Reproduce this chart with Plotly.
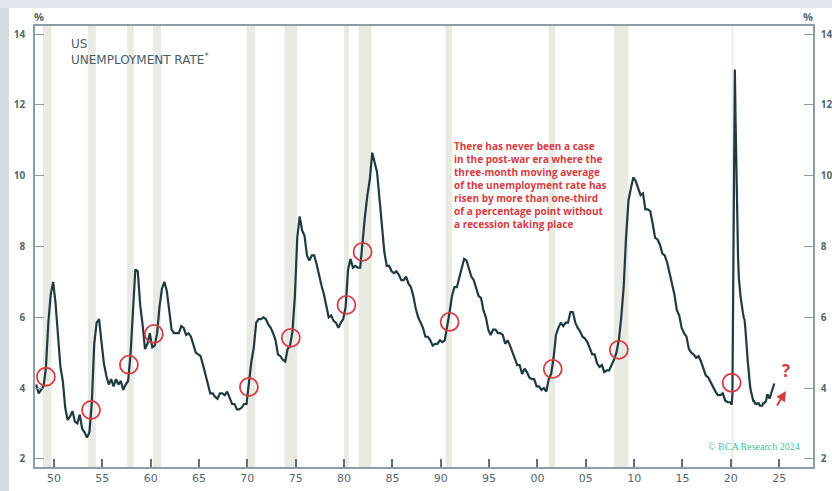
import plotly.graph_objects as go

# ---------------- data ----------------
# 3-month moving average of the US unemployment rate (%).
# Quarterly readings (end of Mar / Jun / Sep / Dec) from 1948 to 2019
Q_START_YEAR = 1948
rate_quarterly = [
    4.10, 3.85, 3.95, 4.05,   # 1948
    4.55, 5.85, 6.65, 7.00,   # 1949
    6.40, 5.55, 4.60, 4.20,   # 1950
    3.45, 3.10, 3.20, 3.35,   # 1951
    3.05, 3.00, 3.25, 2.85,   # 1952
    2.75, 2.60, 2.75, 3.60,   # 1953
    5.25, 5.85, 5.95, 5.30,   # 1954
    4.70, 4.35, 4.10, 4.25,   # 1955
    4.05, 4.25, 4.10, 4.20,   # 1956
    3.95, 4.10, 4.20, 4.95,   # 1957
    6.35, 7.35, 7.30, 6.35,   # 1958
    5.80, 5.10, 5.25, 5.55,   # 1959
    5.15, 5.20, 5.55, 6.30,   # 1960
    6.80, 7.00, 6.75, 6.20,   # 1961
    5.65, 5.55, 5.55, 5.55,   # 1962
    5.75, 5.70, 5.50, 5.55,   # 1963
    5.45, 5.20, 5.00, 4.95,   # 1964
    4.90, 4.65, 4.35, 4.10,   # 1965
    3.85, 3.85, 3.75, 3.70,   # 1966
    3.85, 3.85, 3.80, 3.90,   # 1967
    3.75, 3.55, 3.55, 3.40,   # 1968
    3.40, 3.45, 3.55, 3.55,   # 1969
    4.15, 4.75, 5.15, 5.85,   # 1970
    5.95, 5.95, 6.00, 5.95,   # 1971
    5.80, 5.70, 5.55, 5.35,   # 1972
    4.95, 4.90, 4.80, 4.75,   # 1973
    5.10, 5.20, 5.60, 6.60,   # 1974
    8.25, 8.85, 8.45, 8.30,   # 1975
    7.75, 7.60, 7.75, 7.75,   # 1976
    7.50, 7.15, 6.90, 6.65,   # 1977
    6.35, 6.00, 6.05, 5.90,   # 1978
    5.85, 5.70, 5.85, 5.95,   # 1979
    6.30, 7.35, 7.65, 7.40,   # 1980
    7.45, 7.40, 7.40, 8.25,   # 1981
    8.85, 9.45, 9.90, 10.65,  # 1982
    10.35, 10.10, 9.35, 8.50, # 1983
    7.85, 7.45, 7.45, 7.30,   # 1984
    7.25, 7.30, 7.20, 7.05,   # 1985
    7.05, 7.15, 6.95, 6.85,   # 1986
    6.60, 6.25, 6.00, 5.85,   # 1987
    5.70, 5.45, 5.45, 5.35,   # 1988
    5.20, 5.25, 5.25, 5.35,   # 1989
    5.30, 5.35, 5.70, 6.15,   # 1990
    6.60, 6.85, 6.85, 7.10,   # 1991
    7.40, 7.65, 7.60, 7.35,   # 1992
    7.15, 7.05, 6.80, 6.60,   # 1993
    6.55, 6.20, 6.00, 5.65,   # 1994
    5.50, 5.65, 5.65, 5.55,   # 1995
    5.55, 5.50, 5.25, 5.35,   # 1996
    5.20, 5.00, 4.85, 4.65,   # 1997
    4.65, 4.40, 4.55, 4.45,   # 1998
    4.30, 4.25, 4.25, 4.05,   # 1999
    4.05, 3.95, 4.00, 3.90,   # 2000
    4.25, 4.40, 4.85, 5.50,   # 2001
    5.70, 5.85, 5.75, 5.85,   # 2002
    5.85, 6.15, 6.15, 5.85,   # 2003
    5.70, 5.60, 5.45, 5.40,   # 2004
    5.30, 5.10, 4.95, 4.95,   # 2005
    4.70, 4.60, 4.65, 4.45,   # 2006
    4.50, 4.50, 4.65, 4.80,   # 2007
    5.00, 5.35, 6.00, 6.85,   # 2008
    8.25, 9.30, 9.65, 9.95,   # 2009
    9.85, 9.65, 9.45, 9.50,   # 2010
    9.05, 9.05, 9.00, 8.65,   # 2011
    8.25, 8.20, 8.05, 7.80,   # 2012
    7.75, 7.55, 7.25, 6.95,   # 2013
    6.65, 6.20, 6.05, 5.70,   # 2014
    5.55, 5.45, 5.10, 5.00,   # 2015
    4.95, 4.85, 4.90, 4.75,   # 2016
    4.55, 4.35, 4.30, 4.15,   # 2017
    4.05, 3.90, 3.80, 3.80,   # 2018
    3.85, 3.65, 3.60, 3.60,   # 2019
]

# Monthly readings from Jan 2020 to Jul 2024
M_START_YEAR = 2020
rate_monthly = [
    3.57, 3.53, 3.80, 7.57, 10.80, 13.00, 11.47, 9.87, 8.80, 7.67, 7.10, 6.73,   # 2020
    6.60, 6.43, 6.23, 6.13, 6.00, 5.93, 5.70, 5.47, 5.07, 4.77, 4.47, 4.20,      # 2021
    4.03, 3.90, 3.80, 3.70, 3.63, 3.63, 3.57, 3.57, 3.53, 3.57, 3.57, 3.57,      # 2022
    3.50, 3.50, 3.48, 3.50, 3.57, 3.57, 3.60, 3.60, 3.67, 3.80, 3.80, 3.77,      # 2023
    3.70, 3.77, 3.83, 3.90, 3.93, 4.00, 4.13,                                    # 2024
]

# Points where the 3-month average rose by > 1/3 pp (red circles)
trigger_dates = ["1949-03-01", "1953-11-01", "1957-10-01", "1960-05-01", "1970-03-01",
                 "1974-07-01", "1980-04-01", "1981-12-01", "1990-12-01", "2001-08-01",
                 "2008-06-01", "2020-02-01"]
trigger_values = [4.32, 3.38, 4.66, 5.53, 4.03, 5.42, 6.35, 7.85, 5.87, 4.54, 5.08, 4.15]

# NBER recessions (shaded)
recessions = [
    ("1948-11-01", "1949-10-01"), ("1953-07-01", "1954-05-01"), ("1957-08-01", "1958-04-01"),
    ("1960-04-01", "1961-02-01"), ("1969-12-01", "1970-11-01"), ("1973-11-01", "1975-03-01"),
    ("1980-01-01", "1980-07-01"), ("1981-07-01", "1982-11-01"), ("1990-07-01", "1991-03-01"),
    ("2001-03-01", "2001-11-01"), ("2007-12-01", "2009-06-01"), ("2020-02-01", "2020-04-01"),
]

tick_years = list(range(1950, 2030, 5))
tick_labels = ["50", "55", "60", "65", "70", "75", "80", "85", "90", "95",
               "00", "05", "10", "15", "20", "25"]
y_ticks = [2, 4, 6, 8, 10, 12, 14]

note_lines = [
    "There has never been a case",
    "in the post-war era where the",
    "three-month moving average",
    "of the unemployment rate has",
    "risen by more than one-third",
    "of a percentage point without",
    "a recession taking place",
]

# ---------------- build series ----------------
dates = [f"{Q_START_YEAR + i // 4}-{3 * (i % 4) + 3:02d}-01" for i in range(len(rate_quarterly))]
dates += [f"{M_START_YEAR + i // 12}-{i % 12 + 1:02d}-01" for i in range(len(rate_monthly))]
rates = rate_quarterly + rate_monthly

# ---------------- layout helpers ----------------
W, H = 832, 491
ML, MR, MT, MB = 35, 19, 26, 24


def px_x(x):
    return (x - ML) / (W - ML - MR)


def px_y(y):
    return (H - MB - y) / (H - MT - MB)


LINE = "#1f3b40"
AXIS = "#8d9ea2"
TXT = "#56676c"
RED = "#d63c44"
BAND = "#e9eae3"
FONT = "Open Sans"

fig = go.Figure()

for s, e in recessions:
    fig.add_vrect(x0=s, x1=e, fillcolor=BAND, line_width=0, layer="below", opacity=1)

fig.add_trace(go.Scatter(x=dates, y=rates, mode="lines",
                         line=dict(color=LINE, width=2.2), showlegend=False,
                         hoverinfo="x+y"))

fig.add_trace(go.Scatter(x=trigger_dates, y=trigger_values, mode="markers",
                         marker=dict(symbol="circle-open", size=18, color=RED,
                                     line=dict(color=RED, width=1.8)),
                         showlegend=False))

# invisible trace for right axis
fig.add_trace(go.Scatter(x=[dates[0]], y=[rates[0]], yaxis="y2", mode="lines",
                         line=dict(width=0), showlegend=False, hoverinfo="skip"))

YR = [1.77, 14.23]
XR = ["1948-01-15", "2028-07-01"]

fig.update_layout(
    width=W, height=H,
    margin=dict(l=ML, r=MR, t=MT, b=MB, pad=0, autoexpand=False),
    paper_bgcolor="white", plot_bgcolor="white",
    font=dict(family=FONT, color=TXT),
    xaxis=dict(range=XR, showgrid=False, zeroline=False, automargin=False,
               showline=True, mirror=True, linecolor=AXIS, linewidth=1.6,
               tickmode="array", tickvals=[f"{y}-01-01" for y in tick_years],
               ticktext=tick_labels, ticks="inside", ticklen=8, tickwidth=2,
               tickcolor="#5f7074",
               tickfont=dict(size=11, color=TXT, family="DejaVu Sans")),
    yaxis=dict(range=YR, showgrid=False, zeroline=False, automargin=False,
               showline=True, linecolor=AXIS, linewidth=1.6,
               tickmode="array", tickvals=y_ticks, ticks="inside", ticklen=9,
               tickwidth=1.3, tickcolor=AXIS, ticklabelstandoff=6,
               tickfont=dict(size=10, color=TXT, family=FONT, weight=700)),
    yaxis2=dict(range=YR, overlaying="y", side="right", showgrid=False, zeroline=False,
                automargin=False,
                showline=True, linecolor=AXIS, linewidth=1.6,
                tickmode="array", tickvals=y_ticks, ticks="inside", ticklen=9,
                tickwidth=1.3, tickcolor=AXIS, ticklabelstandoff=4,
                tickfont=dict(size=10, color=TXT, family=FONT, weight=700)),
)

# background strips of the surrounding page
fig.add_shape(type="rect", xref="paper", yref="paper", x0=px_x(0), x1=px_x(W),
              y0=px_y(8), y1=px_y(0), fillcolor="#e2e7ee", line_width=0, layer="below")
fig.add_shape(type="rect", xref="paper", yref="paper", x0=px_x(0), x1=px_x(9),
              y0=px_y(H), y1=px_y(8), fillcolor="#d6dbe2", line_width=0, layer="below")

ann = []
ann.append(dict(text="%", x=px_x(39), y=px_y(16), xanchor="center", yanchor="middle",
                font=dict(size=11, color=TXT, weight=700)))
ann.append(dict(text="%", x=px_x(808), y=px_y(16), xanchor="center", yanchor="middle",
                font=dict(size=11, color=TXT, weight=700)))
ann.append(dict(text="US<br>UNEMPLOYMENT RATE<sup>*</sup>", x=px_x(69), y=px_y(35),
                xanchor="left", yanchor="top", align="left",
                font=dict(size=12, color="#4a5c61", family="DejaVu Sans")))
ann.append(dict(text="<br>".join(note_lines), x=px_x(452), y=px_y(137),
                xanchor="left", yanchor="top", align="left",
                font=dict(size=10, color=RED, weight=700)))
ann.append(dict(text="?", x=px_x(786), y=px_y(370), xanchor="center", yanchor="middle",
                font=dict(size=17, color=RED, weight=700)))
ann.append(dict(text="© BCA Research 2024", x=px_x(802), y=px_y(446),
                xanchor="right", yanchor="middle",
                font=dict(size=10, color="#3ec59c", family="Liberation Serif")))
for a in ann:
    a.update(xref="paper", yref="paper", showarrow=False)
    fig.add_annotation(**a)

# red arrow next to the question mark
fig.add_annotation(xref="paper", yref="paper", axref="pixel", ayref="pixel",
                   x=px_x(786), y=px_y(391), ax=-10, ay=16, text="",
                   showarrow=True, arrowhead=2, arrowsize=1, arrowwidth=2,
                   arrowcolor=RED)

fig.write_html("out.html")
